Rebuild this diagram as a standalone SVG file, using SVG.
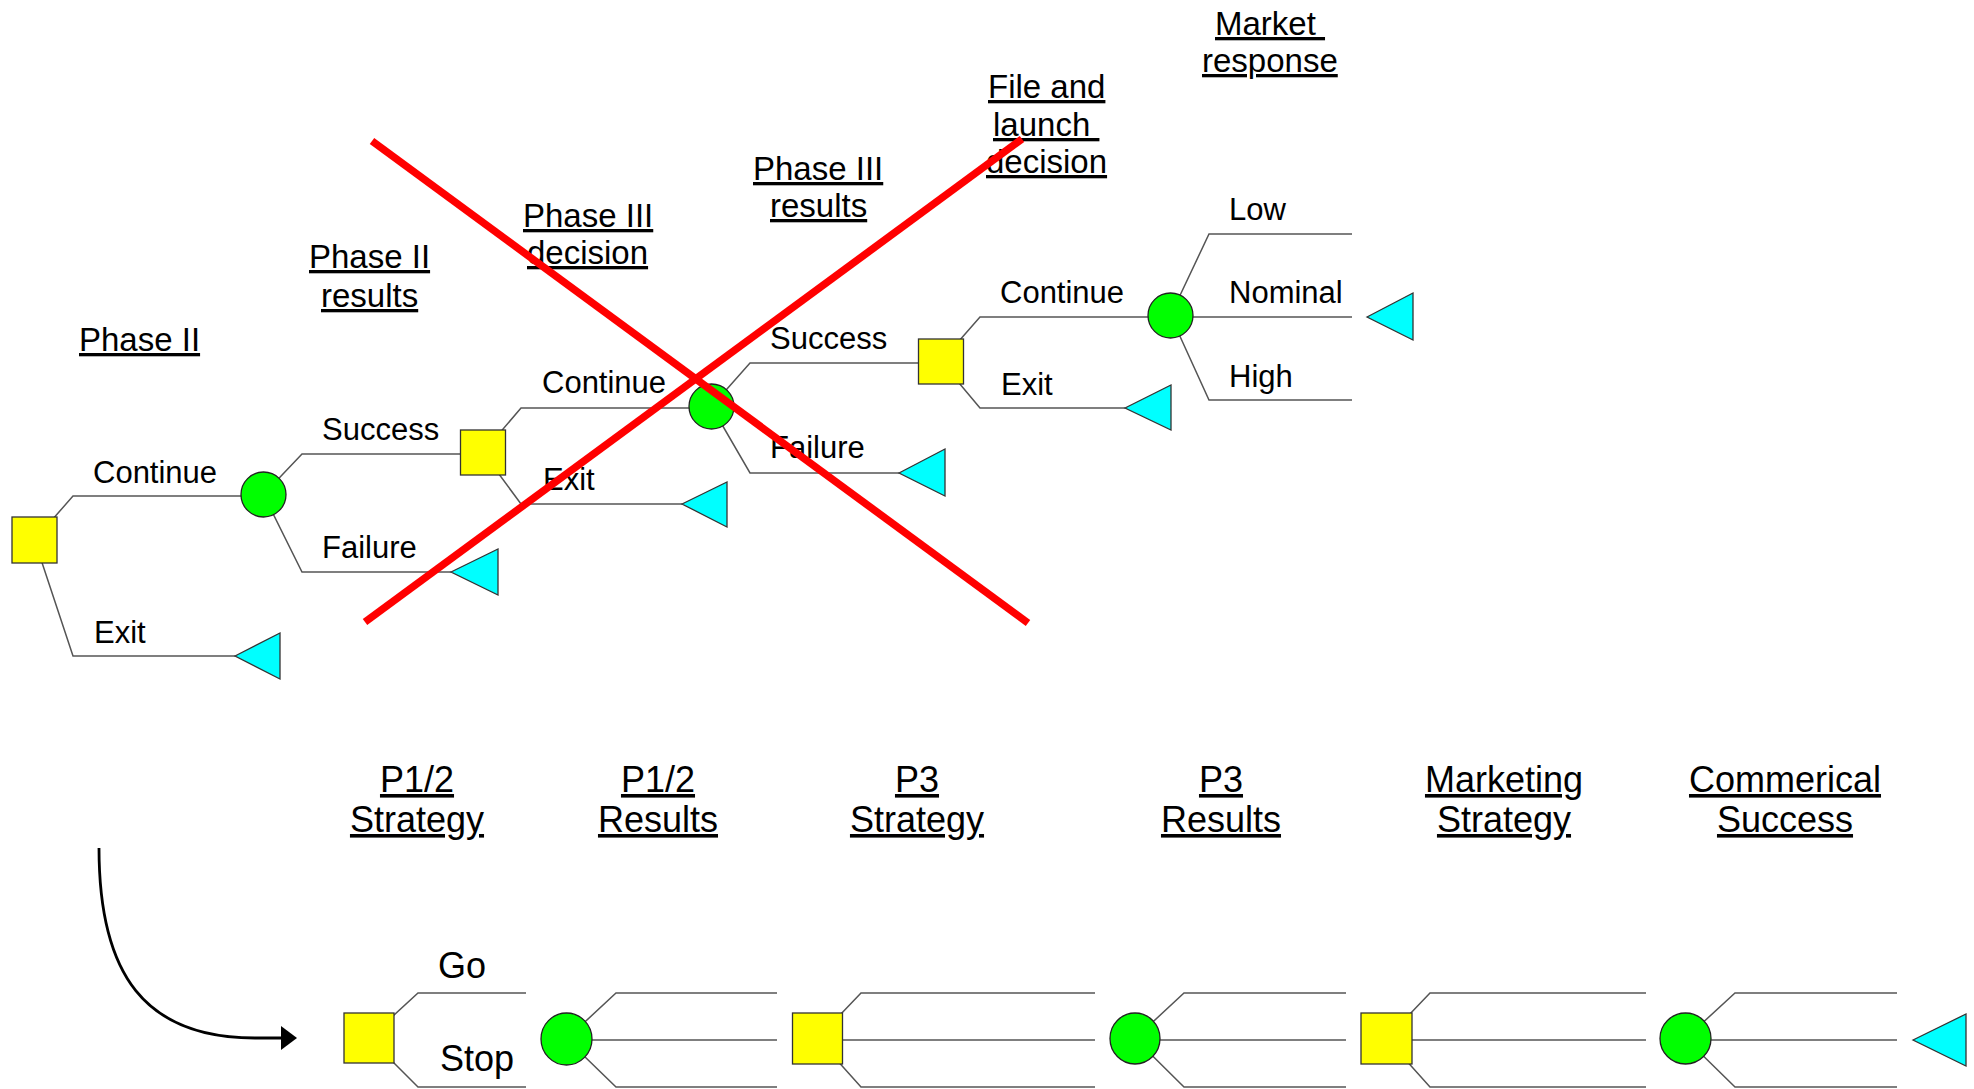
<svg xmlns="http://www.w3.org/2000/svg" width="1974" height="1089" viewBox="0 0 1974 1089">
  <style>
    text { font-family: "Liberation Sans", Arial, sans-serif; fill: #000; }
    .lbl { font-size: 31px; }
    .hdr { font-size: 33px; text-decoration: underline; }
    .bhdr { font-size: 36px; text-decoration: underline; text-anchor: middle; }
    .blbl { font-size: 36px; }
    .dec { fill: #ffff00; stroke: #333; stroke-width: 1.3; }
    .chn { fill: #00ff00; stroke: #222; stroke-width: 1.3; }
    .end { fill: #00ffff; stroke: #333; stroke-width: 1.3; }
    .br { fill: none; stroke: #555; stroke-width: 1.5; }
    .cross { stroke: #ff0000; stroke-width: 7.5; }
  </style>
  <defs>
    <marker id="arrowhead" markerWidth="16" markerHeight="24" refX="1" refY="12" orient="auto" markerUnits="userSpaceOnUse">
      <polygon points="0,0 16,12 0,24" fill="#000"/>
    </marker>
  </defs>
  <rect width="1974" height="1089" fill="#fff"/>

  <!-- stage headings, upper tree -->
  <g id="headings-top">
    <text class="hdr" x="79" y="351">Phase II</text>
    <text class="hdr" x="309" y="268">Phase II</text>
    <text class="hdr" x="321" y="307">results</text>
    <text class="hdr" x="523" y="227">Phase III</text>
    <text class="hdr" x="527" y="264">decision</text>
    <text class="hdr" x="753" y="180">Phase III</text>
    <text class="hdr" x="770" y="217">results</text>
    <text class="hdr" x="988" y="98">File and</text>
    <text class="hdr" x="993" y="136" xml:space="preserve">launch </text>
    <text class="hdr" x="986" y="173">decision</text>
    <text class="hdr" x="1215" y="35" xml:space="preserve">Market </text>
    <text class="hdr" x="1202" y="72">response</text>
  </g>

  <!-- branches of the upper tree -->
  <g id="connectors-top">
    <polyline class="br" points="34.5,540 73,496 263,496"/>
    <polyline class="br" points="34.5,540 73,656 235,656"/>
    <polyline class="br" points="263.5,494.5 302,454 483,454"/>
    <polyline class="br" points="263.5,494.5 302,572 451,572"/>
    <polyline class="br" points="483,452.5 521,408 711,408"/>
    <polyline class="br" points="483,452.5 521,504 682,504"/>
    <polyline class="br" points="711.5,406.5 750,363 941,363"/>
    <polyline class="br" points="711.5,406.5 750,473 899,473"/>
    <polyline class="br" points="941,361.5 980,317 1170,317"/>
    <polyline class="br" points="941,361.5 980,408 1125,408"/>
    <polyline class="br" points="1170.5,315.5 1209,234 1352,234"/>
    <polyline class="br" points="1170.5,317 1352,317"/>
    <polyline class="br" points="1170.5,315.5 1209,400 1352,400"/>
  </g>

  <!-- branch labels, upper tree -->
  <g id="labels-top">
    <text class="lbl" x="93" y="483">Continue</text>
    <text class="lbl" x="94" y="643">Exit</text>
    <text class="lbl" x="322" y="440">Success</text>
    <text class="lbl" x="322" y="558">Failure</text>
    <text class="lbl" x="542" y="393">Continue</text>
    <text class="lbl" x="543" y="490">Exit</text>
    <text class="lbl" x="770" y="349">Success</text>
    <text class="lbl" x="770" y="458">Failure</text>
    <text class="lbl" x="1000" y="303">Continue</text>
    <text class="lbl" x="1001" y="395">Exit</text>
    <text class="lbl" x="1229" y="220">Low</text>
    <text class="lbl" x="1229" y="303">Nominal</text>
    <text class="lbl" x="1229" y="387">High</text>
  </g>

  <!-- nodes, upper tree -->
  <g id="phase2-decision"><rect class="dec" x="12" y="517" width="45" height="46"/></g>
  <g id="phase2-results"><circle class="chn" cx="263.5" cy="494.5" r="22.5"/></g>
  <g id="phase3-decision"><rect class="dec" x="460.5" y="430" width="45" height="45"/></g>
  <g id="phase3-results"><circle class="chn" cx="711.5" cy="406.5" r="22.5"/></g>
  <g id="launch-decision"><rect class="dec" x="918.5" y="339" width="45" height="45"/></g>
  <g id="market-response"><circle class="chn" cx="1170.5" cy="315.5" r="22.5"/></g>
  <g id="end-p2-exit"><polygon class="end" points="235,656 280,633 280,679"/></g>
  <g id="end-p2-failure"><polygon class="end" points="451,572 498,549 498,595"/></g>
  <g id="end-p3-exit"><polygon class="end" points="682,504 727,482 727,527"/></g>
  <g id="end-p3-failure"><polygon class="end" points="899,473 945,449 945,496"/></g>
  <g id="end-launch-exit"><polygon class="end" points="1125,408 1171,385 1171,430"/></g>
  <g id="end-market"><polygon class="end" points="1367,317 1413,293 1413,340"/></g>

  <!-- red strike-through over the upper tree -->
  <g id="strike">
    <line class="cross" x1="372" y1="141" x2="1028" y2="623"/>
    <line class="cross" x1="365" y1="622" x2="1022" y2="139"/>
  </g>

  <!-- stage headings, lower tree -->
  <g id="headings-bottom">
    <text class="bhdr" x="417" y="792">P1/2</text>
    <text class="bhdr" x="417" y="832">Strategy</text>
    <text class="bhdr" x="658" y="792">P1/2</text>
    <text class="bhdr" x="658" y="832">Results</text>
    <text class="bhdr" x="917" y="792">P3</text>
    <text class="bhdr" x="917" y="832">Strategy</text>
    <text class="bhdr" x="1221" y="792">P3</text>
    <text class="bhdr" x="1221" y="832">Results</text>
    <text class="bhdr" x="1504" y="792">Marketing</text>
    <text class="bhdr" x="1504" y="832">Strategy</text>
    <text class="bhdr" x="1785" y="792">Commerical</text>
    <text class="bhdr" x="1785" y="832">Success</text>
  </g>

  <!-- branches of the lower tree and the curved arrow -->
  <g id="connectors-bottom">
    <path d="M99,848 C99,975 145,1038 255,1038 L282,1038" fill="none" stroke="#000" stroke-width="2.8" marker-end="url(#arrowhead)"/>
    <polyline class="br" points="369,1038 418,993 526,993"/>
    <polyline class="br" points="369,1038 418,1087 526,1087"/>
    <polyline class="br" points="566.5,1039 616,993 777,993"/>
    <polyline class="br" points="566.5,1040 777,1040"/>
    <polyline class="br" points="566.5,1039 616,1087 777,1087"/>
    <polyline class="br" points="817.5,1038.5 861,993 1095,993"/>
    <polyline class="br" points="817.5,1040 1095,1040"/>
    <polyline class="br" points="817.5,1038.5 861,1087 1095,1087"/>
    <polyline class="br" points="1135,1038.5 1184,993 1346,993"/>
    <polyline class="br" points="1135,1040 1346,1040"/>
    <polyline class="br" points="1135,1038.5 1184,1087 1346,1087"/>
    <polyline class="br" points="1386.5,1038.5 1430,993 1646,993"/>
    <polyline class="br" points="1386.5,1040 1646,1040"/>
    <polyline class="br" points="1386.5,1038.5 1430,1087 1646,1087"/>
    <polyline class="br" points="1685.5,1038.5 1735,993 1897,993"/>
    <polyline class="br" points="1685.5,1040 1897,1040"/>
    <polyline class="br" points="1685.5,1038.5 1735,1087 1897,1087"/>
  </g>

  <g id="labels-bottom">
    <text class="blbl" x="438" y="978">Go</text>
    <text class="blbl" x="440" y="1071">Stop</text>
  </g>

  <!-- nodes, lower tree -->
  <g id="p12-strategy"><rect class="dec" x="344" y="1013" width="50" height="50"/></g>
  <g id="p12-results"><ellipse class="chn" cx="566.5" cy="1039" rx="25.5" ry="26"/></g>
  <g id="p3-strategy"><rect class="dec" x="792.5" y="1013" width="50" height="51"/></g>
  <g id="p3-results"><ellipse class="chn" cx="1135" cy="1038.5" rx="25" ry="25.5"/></g>
  <g id="marketing-strategy"><rect class="dec" x="1361" y="1013" width="51" height="51"/></g>
  <g id="commercial-success"><ellipse class="chn" cx="1685.5" cy="1038.5" rx="25.5" ry="25.5"/></g>
  <g id="end-commercial"><polygon class="end" points="1913,1040 1966,1014 1966,1066"/></g>
</svg>
